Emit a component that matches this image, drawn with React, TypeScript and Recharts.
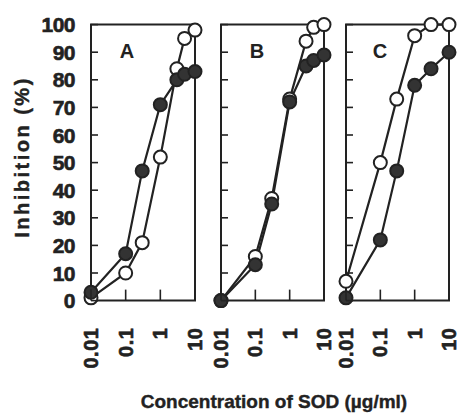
import React from 'react';
import { LineChart, Line, XAxis, YAxis, ReferenceArea } from 'recharts';

// Concentrations of SOD (µg/ml) per panel
const concA = [0.01, 0.1, 0.3, 1, 3, 5, 10];
const openA = [1, 10, 21, 52, 84, 95, 98];
const filledA = [3, 17, 47, 71, 80, 82, 83];

const concB = [0.01, 0.1, 0.3, 1, 3, 5, 10];
const openB = [0, 16, 37, 73, 94, 99, 100];
const filledB = [0, 13, 35, 72, 85, 87, 89];

const concC = [0.01, 0.1, 0.3, 1, 3, 10];
const openC = [7, 50, 73, 96, 100, 100];
const filledC = [1, 22, 47, 78, 84, 90];

const xTicks = [0.01, 0.1, 1, 10];
const yTicks = [0, 10, 20, 30, 40, 50, 60, 70, 80, 90, 100];
const panelLetters = ['A', 'B', 'C'];

const FONT = '"Liberation Sans", Arial, Helvetica, sans-serif';
const INK = '#222';

const W = 462;
const H = 414;
const PLOT_TOP = 24.6;
const PLOT_BOTTOM = 300.6;
const X_AXIS_H = 60;
const Y_AXIS_W = 30;

const build = (conc: number[], open: number[], filled: number[]) =>
  conc.map((c, i) => ({ c, open: open[i], filled: filled[i] }));

const YTick = (props: any) => {
  const { x, y, payload, showLabel } = props;
  return (
    <g>
      <line x1={x} y1={y} x2={x + 7} y2={y} stroke={INK} strokeWidth={1.6} />
      {showLabel && (
        <text
          x={x - 16}
          y={y}
          dy={7.5}
          textAnchor="end"
          fontFamily={FONT}
          fontWeight="bold"
          fontSize={21}
          fill={INK}
          stroke={INK}
          strokeWidth={0.6}
          letterSpacing={-0.5}
        >
          {payload.value}
        </text>
      )}
    </g>
  );
};

const XTick = (props: any) => {
  const { x, y, payload } = props;
  const ty = y + 27;
  return (
    <g>
      <line x1={x} y1={y} x2={x} y2={y - 11} stroke={INK} strokeWidth={1.6} />
      <text
        x={x}
        y={ty}
        dy={7}
        textAnchor="end"
        transform={`rotate(-90 ${x} ${ty})`}
        fontFamily={FONT}
        fontWeight="bold"
        fontSize={20}
        fill={INK}
        stroke={INK}
        strokeWidth={0.6}
        letterSpacing={0.5}
      >
        {String(payload.value)}
      </text>
    </g>
  );
};

type PanelProps = {
  data: { c: number; open: number; filled: number }[];
  left: number;
  right: number;
  showYLabels: boolean;
};

const Panel = ({ data, left, right, showYLabels }: PanelProps) => (
  <div style={{ position: 'absolute', left: 0, top: 0 }}>
    <LineChart
      width={W}
      height={H}
      data={data}
      margin={{
        top: PLOT_TOP,
        right: W - right,
        bottom: H - PLOT_BOTTOM - X_AXIS_H,
        left: left - Y_AXIS_W,
      }}
    >
      <XAxis
        dataKey="c"
        type="number"
        scale="log"
        domain={[0.01, 10]}
        ticks={xTicks}
        interval={0}
        height={X_AXIS_H}
        axisLine={false}
        tickLine={false}
        tickSize={0}
        tickMargin={0}
        tick={<XTick />}
      />
      <YAxis
        type="number"
        domain={[0, 100]}
        ticks={yTicks}
        interval={0}
        width={Y_AXIS_W}
        axisLine={false}
        tickLine={false}
        tickSize={0}
        tickMargin={0}
        tick={<YTick showLabel={showYLabels} />}
      />
      <ReferenceArea
        x1={0.01}
        x2={10}
        y1={0}
        y2={100}
        fill="none"
        fillOpacity={0}
        stroke={INK}
        strokeWidth={2}
      />
      <Line
        dataKey="open"
        stroke={INK}
        strokeWidth={2.2}
        dot={{ r: 6.5, fill: '#fff', stroke: INK, strokeWidth: 2, fillOpacity: 1 }}
        isAnimationActive={false}
      />
      <Line
        dataKey="filled"
        stroke={INK}
        strokeWidth={2.2}
        dot={{ r: 6.5, fill: '#333', stroke: INK, strokeWidth: 2, fillOpacity: 1 }}
        isAnimationActive={false}
      />
    </LineChart>
  </div>
);

export default function App() {
  const dataA = build(concA, openA, filledA);
  const dataB = build(concB, openB, filledB);
  const dataC = build(concC, openC, filledC);
  return (
    <div
      style={{
        position: 'absolute',
        left: 0,
        top: 0,
        width: W,
        height: H,
        background: '#fff',
        overflow: 'hidden',
      }}
    >
      <Panel data={dataA} left={91} right={195} showYLabels={true} />
      <Panel data={dataB} left={221} right={324} showYLabels={false} />
      <Panel data={dataC} left={346} right={449} showYLabels={false} />
      <svg
        width={W}
        height={H}
        style={{ position: 'absolute', left: 0, top: 0, pointerEvents: 'none' }}
      >
        <text
          x={22}
          y={157}
          dy={7}
          transform="rotate(-90 22 157)"
          textAnchor="middle"
          fontFamily={FONT}
          fontWeight="bold"
          fontSize={20}
          letterSpacing={2.5}
          fill={INK}
          stroke={INK}
          strokeWidth={0.4}
        >
          Inhibition (%)
        </text>
        <text
          x={274}
          y={401}
          dy={7}
          textAnchor="middle"
          fontFamily={FONT}
          fontWeight="bold"
          fontSize={19}
          fill={INK}
          stroke={INK}
          strokeWidth={0.4}
        >
          Concentration of SOD (µg/ml)
        </text>
        {panelLetters.map((l, i) => (
          <text
            key={l}
            x={[127, 257, 380][i]}
            y={51}
            dy={7}
            textAnchor="middle"
            fontFamily={FONT}
            fontWeight="bold"
            fontSize={20}
            fill={INK}
          >
            {l}
          </text>
        ))}
      </svg>
    </div>
  );
}
